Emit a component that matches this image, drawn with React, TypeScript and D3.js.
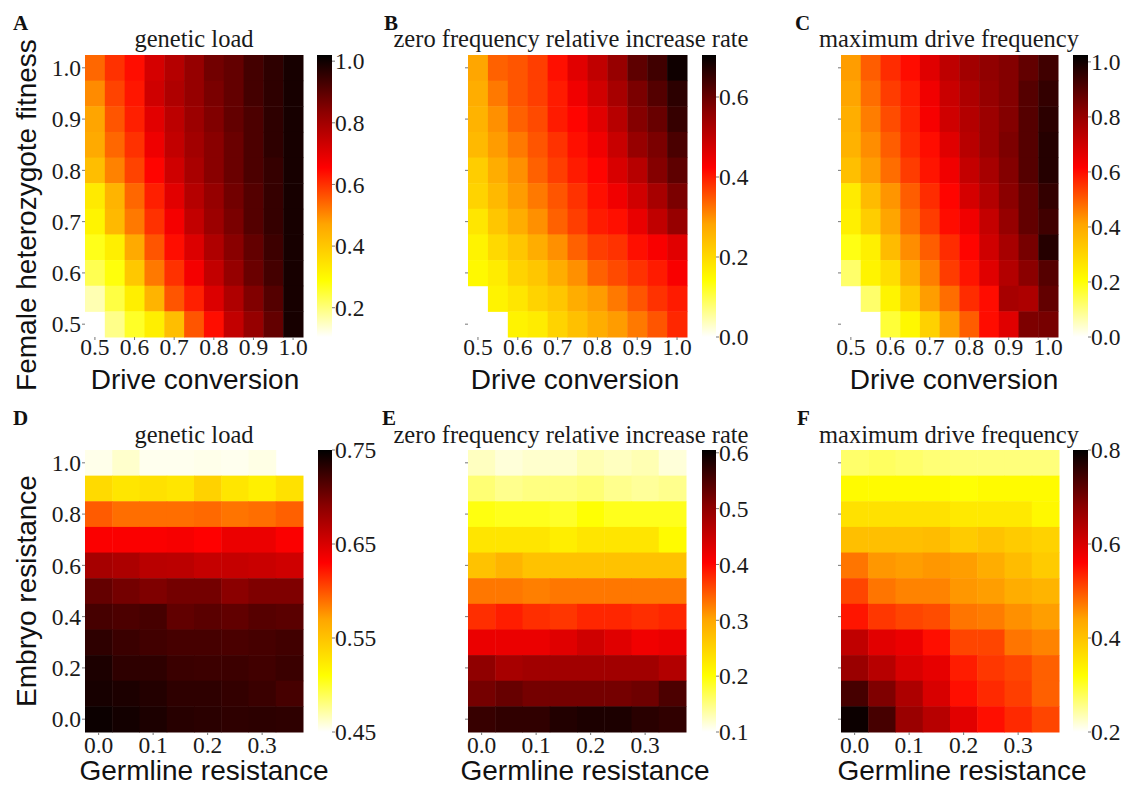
import React from "react";
import * as d3 from "d3";

// ---------- axes values ----------
const driveConversion = [0.5, 0.55, 0.6, 0.65, 0.7, 0.75, 0.8, 0.85, 0.9, 0.95, 1.0];
const femaleFitness = [1.0, 0.95, 0.9, 0.85, 0.8, 0.75, 0.7, 0.65, 0.6, 0.55, 0.5]; // top → bottom
const germlineResistance = [0, 0.05, 0.1, 0.15, 0.2, 0.25, 0.3, 0.35];
const embryoResistance = [1.0, 0.9, 0.8, 0.7, 0.6, 0.5, 0.4, 0.3, 0.2, 0.1, 0]; // top → bottom

// ---------- tick labels ----------
const driveTicks = [0.5, 0.6, 0.7, 0.8, 0.9, 1.0];
const fitnessTicks = [1.0, 0.9, 0.8, 0.7, 0.6, 0.5];
const germlineTicks = [0, 0.1, 0.2, 0.3];
const embryoTicks = [1.0, 0.8, 0.6, 0.4, 0.2, 0];

const loadTicksA = [0.2, 0.4, 0.6, 0.8, 1.0];
const zeroTicksB = [0, 0.2, 0.4, 0.6];
const maxTicksC = [0, 0.2, 0.4, 0.6, 0.8, 1.0];
const loadTicksD = [0.45, 0.55, 0.65, 0.75];
const zeroTicksE = [0.1, 0.2, 0.3, 0.4, 0.5, 0.6];
const maxTicksF = [0.2, 0.4, 0.6, 0.8];

// ---------- colour-bar ranges ----------
const rangeA = [0.105, 1.02];
const rangeB = [0, 0.705];
const rangeC = [0, 1.025];
const rangeD = [0.45, 0.75];
const rangeE = [0.1, 0.605];
const rangeF = [0.2, 0.8];

// ---------- data (rows top → bottom, columns left → right) ----------
const geneticLoadA: (number | null)[][] = [
  [0.54, 0.6, 0.64, 0.72, 0.77, 0.82, 0.87, 0.89, 0.93, 0.96, 0.99],
  [0.5, 0.58, 0.63, 0.73, 0.78, 0.82, 0.86, 0.89, 0.93, 0.96, 0.99],
  [0.47, 0.56, 0.62, 0.7, 0.76, 0.81, 0.85, 0.89, 0.92, 0.96, 0.99],
  [0.46, 0.54, 0.6, 0.68, 0.75, 0.8, 0.84, 0.88, 0.92, 0.96, 0.99],
  [0.42, 0.51, 0.58, 0.65, 0.73, 0.79, 0.84, 0.88, 0.92, 0.95, 0.99],
  [0.33, 0.44, 0.54, 0.62, 0.7, 0.77, 0.82, 0.87, 0.91, 0.95, 0.99],
  [0.31, 0.43, 0.52, 0.6, 0.67, 0.75, 0.81, 0.86, 0.91, 0.95, 0.99],
  [0.27, 0.32, 0.46, 0.56, 0.64, 0.71, 0.78, 0.84, 0.89, 0.94, 0.99],
  [0.23, 0.28, 0.4, 0.52, 0.6, 0.67, 0.75, 0.82, 0.88, 0.93, 0.99],
  [0.16, 0.24, 0.32, 0.44, 0.56, 0.62, 0.71, 0.78, 0.85, 0.91, 0.99],
  [null, 0.19, 0.26, 0.32, 0.42, 0.56, 0.64, 0.75, 0.82, 0.89, 0.99],
];

const zeroRateB: (number | null)[][] = [
  [0.28, 0.34, 0.35, 0.37, 0.41, 0.46, 0.5, 0.55, 0.61, 0.64, 0.69],
  [0.27, 0.32, 0.35, 0.37, 0.4, 0.44, 0.48, 0.53, 0.58, 0.62, 0.66],
  [0.26, 0.3, 0.34, 0.36, 0.4, 0.42, 0.46, 0.51, 0.57, 0.6, 0.65],
  [0.25, 0.29, 0.32, 0.35, 0.38, 0.41, 0.44, 0.49, 0.55, 0.58, 0.63],
  [0.22, 0.27, 0.3, 0.34, 0.37, 0.4, 0.42, 0.47, 0.51, 0.57, 0.61],
  [0.21, 0.25, 0.29, 0.32, 0.35, 0.38, 0.41, 0.44, 0.48, 0.53, 0.58],
  [0.18, 0.23, 0.27, 0.3, 0.34, 0.37, 0.4, 0.41, 0.45, 0.5, 0.55],
  [0.16, 0.2, 0.23, 0.27, 0.3, 0.34, 0.37, 0.38, 0.41, 0.43, 0.46],
  [0.15, 0.17, 0.21, 0.23, 0.27, 0.3, 0.34, 0.36, 0.38, 0.4, 0.43],
  [null, 0.16, 0.18, 0.21, 0.23, 0.27, 0.29, 0.32, 0.35, 0.38, 0.4],
  [null, null, 0.16, 0.17, 0.21, 0.24, 0.27, 0.29, 0.32, 0.35, 0.39],
];

const maxFreqC: (number | null)[][] = [
  [0.42, 0.5, 0.56, 0.6, 0.67, 0.73, 0.78, 0.81, 0.83, 0.88, 0.93],
  [0.41, 0.48, 0.54, 0.58, 0.64, 0.71, 0.76, 0.8, 0.83, 0.9, 0.95],
  [0.39, 0.46, 0.52, 0.57, 0.63, 0.7, 0.75, 0.79, 0.83, 0.9, 0.96],
  [0.38, 0.44, 0.5, 0.56, 0.6, 0.67, 0.74, 0.79, 0.84, 0.9, 0.97],
  [0.35, 0.42, 0.48, 0.54, 0.59, 0.64, 0.72, 0.77, 0.83, 0.9, 0.97],
  [0.25, 0.36, 0.43, 0.5, 0.56, 0.61, 0.69, 0.75, 0.82, 0.88, 0.95],
  [0.24, 0.32, 0.41, 0.48, 0.54, 0.6, 0.64, 0.72, 0.8, 0.88, 0.93],
  [0.19, 0.24, 0.36, 0.44, 0.5, 0.56, 0.61, 0.7, 0.77, 0.85, 0.97],
  [0.12, 0.23, 0.28, 0.39, 0.46, 0.54, 0.59, 0.67, 0.75, 0.82, 0.9],
  [null, 0.12, 0.23, 0.32, 0.42, 0.48, 0.56, 0.6, 0.77, 0.76, 0.88],
  [null, null, 0.16, 0.22, 0.31, 0.42, 0.5, 0.6, 0.67, 0.84, 0.85],
];

const geneticLoadD: (number | null)[][] = [
  [0.455, 0.462, 0.454, 0.454, 0.455, 0.454, 0.456, null],
  [0.535, 0.527, 0.53, 0.527, 0.54, 0.527, 0.52, 0.53],
  [0.597, 0.59, 0.59, 0.59, 0.592, 0.588, 0.59, 0.595],
  [0.632, 0.632, 0.632, 0.634, 0.63, 0.64, 0.64, 0.632],
  [0.676, 0.673, 0.666, 0.665, 0.66, 0.66, 0.658, 0.655],
  [0.707, 0.7, 0.695, 0.7, 0.7, 0.69, 0.695, 0.695],
  [0.72, 0.717, 0.72, 0.708, 0.711, 0.708, 0.713, 0.711],
  [0.73, 0.725, 0.722, 0.72, 0.72, 0.718, 0.72, 0.722],
  [0.738, 0.73, 0.73, 0.725, 0.724, 0.724, 0.722, 0.725],
  [0.74, 0.738, 0.735, 0.73, 0.73, 0.728, 0.725, 0.72],
  [0.745, 0.742, 0.738, 0.733, 0.732, 0.73, 0.731, 0.73],
];

const zeroRateE: (number | null)[][] = [
  [0.125, 0.115, 0.12, 0.12, 0.13, 0.125, 0.13, 0.115],
  [0.155, 0.145, 0.15, 0.15, 0.155, 0.145, 0.14, 0.145],
  [0.195, 0.19, 0.19, 0.185, 0.2, 0.19, 0.19, 0.19],
  [0.23, 0.23, 0.23, 0.22, 0.23, 0.23, 0.23, 0.205],
  [0.27, 0.285, 0.27, 0.27, 0.27, 0.27, 0.27, 0.27],
  [0.33, 0.33, 0.325, 0.33, 0.33, 0.33, 0.33, 0.33],
  [0.375, 0.385, 0.375, 0.37, 0.38, 0.38, 0.375, 0.38],
  [0.42, 0.42, 0.42, 0.43, 0.445, 0.43, 0.415, 0.42],
  [0.5, 0.48, 0.485, 0.485, 0.485, 0.485, 0.485, 0.47],
  [0.52, 0.53, 0.52, 0.52, 0.52, 0.52, 0.525, 0.55],
  [0.565, 0.57, 0.57, 0.58, 0.585, 0.585, 0.575, 0.57],
];

const maxFreqF: (number | null)[][] = [
  [0.27, 0.275, 0.27, 0.265, 0.262, 0.262, 0.262, 0.262],
  [0.325, 0.325, 0.325, 0.325, 0.318, 0.325, 0.325, 0.325],
  [0.36, 0.36, 0.36, 0.36, 0.35, 0.35, 0.35, 0.33],
  [0.405, 0.405, 0.405, 0.41, 0.39, 0.4, 0.39, 0.38],
  [0.475, 0.45, 0.445, 0.45, 0.445, 0.43, 0.41, 0.39],
  [0.51, 0.475, 0.465, 0.465, 0.45, 0.445, 0.43, 0.42],
  [0.545, 0.52, 0.51, 0.505, 0.475, 0.47, 0.455, 0.445],
  [0.625, 0.59, 0.58, 0.55, 0.51, 0.51, 0.475, 0.465],
  [0.665, 0.635, 0.6, 0.585, 0.54, 0.52, 0.51, 0.49],
  [0.74, 0.69, 0.645, 0.6, 0.55, 0.53, 0.515, 0.49],
  [0.79, 0.74, 0.665, 0.635, 0.59, 0.55, 0.53, 0.51],
];

const heatColors = ["#ffffff", "#ffff00", "#ffa500", "#ff0000", "#8b0000", "#000000"];

const SERIF = "'Liberation Serif', 'Times New Roman', serif";
const SANS = "'Liberation Sans', Arial, sans-serif";

type PanelProps = {
  id: string;
  letter: string;
  letterX: number;
  letterY: number;
  title: string;
  titleX: number;
  titleY: number;
  left: number;
  top: number;
  width: number;
  height: number;
  xVals: number[];
  yVals: number[];
  data: (number | null)[][];
  xTicks: number[];
  yTicks: number[];
  xFmt: (v: number) => string;
  showYLabels: boolean;
  xTickDy: number;
  xTitle: string;
  xTitleX: number;
  xTitleY: number;
  range: number[];
  cbX: number;
  cbW: number;
  cbTicks: number[];
  cbFmt: (v: number) => string;
};

function Panel(p: PanelProps) {
  const x = d3
    .scaleBand<string>()
    .domain(p.xVals.map(String))
    .range([p.left, p.left + p.width])
    .padding(0);
  const y = d3
    .scaleBand<string>()
    .domain(p.yVals.map(String))
    .range([p.top, p.top + p.height])
    .padding(0);
  const [lo, hi] = p.range;
  const stops = heatColors.map((_, i) => lo + ((hi - lo) * i) / (heatColors.length - 1));
  const color = d3
    .scaleLinear<string>()
    .domain(stops)
    .range(heatColors)
    .interpolate(d3.interpolateRgb)
    .clamp(true);
  const cbScale = d3.scaleLinear().domain([lo, hi]).range([p.top + p.height, p.top]);
  const bw = x.bandwidth();
  const bh = y.bandwidth();
  const gradId = `grad-${p.id}`;
  const tickColor = "#777";
  const labelColor = "#1a1a1a";

  return (
    <g>
      <defs>
        <linearGradient id={gradId} x1="0" y1="1" x2="0" y2="0">
          {heatColors.map((c, i) => (
            <stop key={i} offset={`${(i / (heatColors.length - 1)) * 100}%`} stopColor={c} />
          ))}
        </linearGradient>
      </defs>
      <text x={p.letterX} y={p.letterY} fontFamily={SERIF} fontWeight="bold" fontSize={21} fill="#111">
        {p.letter}
      </text>
      <text x={p.titleX} y={p.titleY} textAnchor="middle" fontFamily={SERIF} fontSize={24.5} fill={labelColor}>
        {p.title}
      </text>
      {p.data.map((row, ri) =>
        row.map((v, ci) =>
          v == null ? null : (
            <rect
              key={`${ri}-${ci}`}
              x={x(String(p.xVals[ci]))}
              y={y(String(p.yVals[ri]))}
              width={bw + 0.5}
              height={bh + 0.5}
              fill={color(v)}
            />
          )
        )
      )}
      {/* x ticks */}
      {p.xTicks.map((t) => {
        const cx = (x(String(t)) as number) + bw / 2;
        return (
          <g key={`xt${t}`}>
            <line x1={cx} x2={cx} y1={p.top + p.height} y2={p.top + p.height + 3} stroke={tickColor} strokeWidth={1} />
            <text
              x={cx}
              y={p.top + p.height + p.xTickDy}
              textAnchor="middle"
              fontFamily={SERIF}
              fontSize={23.5}
              fill={labelColor}
            >
              {p.xFmt(t)}
            </text>
          </g>
        );
      })}
      {/* y ticks */}
      {p.yTicks.map((t) => {
        const cy = (y(String(t)) as number) + bh / 2;
        return (
          <g key={`yt${t}`}>
            <line x1={p.left - 3} x2={p.left} y1={cy} y2={cy} stroke={tickColor} strokeWidth={1} />
            {p.showYLabels && (
              <text
                x={p.left - 4}
                y={cy}
                dy="0.35em"
                textAnchor="end"
                fontFamily={SERIF}
                fontSize={23.5}
                fill={labelColor}
              >
                {d3.format(".1f")(t)}
              </text>
            )}
          </g>
        );
      })}
      <text x={p.xTitleX} y={p.xTitleY} textAnchor="middle" fontFamily={SANS} fontSize={28} fill="#111">
        {p.xTitle}
      </text>
      {/* colour bar */}
      <rect x={p.cbX} y={p.top} width={p.cbW} height={p.height} fill={`url(#${gradId})`} />
      {p.cbTicks.map((t) => {
        const cy = cbScale(t);
        return (
          <g key={`cb${t}`}>
            <line x1={p.cbX + p.cbW} x2={p.cbX + p.cbW + 3} y1={cy} y2={cy} stroke={tickColor} strokeWidth={1} />
            <text
              x={p.cbX + p.cbW + 3}
              y={cy}
              dy="0.35em"
              fontFamily={SERIF}
              fontSize={23.5}
              fill={labelColor}
            >
              {p.cbFmt(t)}
            </text>
          </g>
        );
      })}
    </g>
  );
}

const f1 = d3.format(".1f");
const f2 = d3.format(".2f");

export default function App() {
  const topRow = { top: 55, height: 282, titleY: 47, letterY: 30, xTickDy: 18, xTitleY: 389 };
  const botRow = { top: 450, height: 282, titleY: 443, letterY: 425, xTickDy: 21, xTitleY: 780 };

  return (
    <svg
      width={1124}
      height={785}
      style={{ position: "absolute", left: 0, top: 0, background: "#fff" }}
    >
      <rect x={0} y={0} width={1124} height={785} fill="#fff" />
      <Panel
        id="A" letter="A" letterX={13} letterY={topRow.letterY}
        title="genetic load" titleX={194} titleY={topRow.titleY}
        left={85} top={topRow.top} width={218} height={topRow.height}
        xVals={driveConversion} yVals={femaleFitness} data={geneticLoadA}
        xTicks={driveTicks} yTicks={fitnessTicks} xFmt={f1} showYLabels={true}
        xTickDy={topRow.xTickDy} xTitle="Drive conversion" xTitleX={195} xTitleY={topRow.xTitleY}
        range={rangeA} cbX={317} cbW={15} cbTicks={loadTicksA} cbFmt={f1}
      />
      <Panel
        id="B" letter="B" letterX={384} letterY={topRow.letterY}
        title="zero frequency relative increase rate" titleX={571} titleY={topRow.titleY}
        left={468} top={topRow.top} width={219} height={topRow.height}
        xVals={driveConversion} yVals={femaleFitness} data={zeroRateB}
        xTicks={driveTicks} yTicks={fitnessTicks} xFmt={f1} showYLabels={false}
        xTickDy={topRow.xTickDy} xTitle="Drive conversion" xTitleX={575} xTitleY={topRow.xTitleY}
        range={rangeB} cbX={702} cbW={14} cbTicks={zeroTicksB} cbFmt={f1}
      />
      <Panel
        id="C" letter="C" letterX={795} letterY={topRow.letterY}
        title="maximum drive frequency" titleX={949} titleY={topRow.titleY}
        left={841} top={topRow.top} width={217} height={topRow.height}
        xVals={driveConversion} yVals={femaleFitness} data={maxFreqC}
        xTicks={driveTicks} yTicks={fitnessTicks} xFmt={f1} showYLabels={false}
        xTickDy={topRow.xTickDy} xTitle="Drive conversion" xTitleX={954} xTitleY={topRow.xTitleY}
        range={rangeC} cbX={1073} cbW={15} cbTicks={maxTicksC} cbFmt={f1}
      />
      <Panel
        id="D" letter="D" letterX={13} letterY={botRow.letterY}
        title="genetic load" titleX={194} titleY={botRow.titleY}
        left={85} top={botRow.top} width={218} height={botRow.height}
        xVals={germlineResistance} yVals={embryoResistance} data={geneticLoadD}
        xTicks={germlineTicks} yTicks={embryoTicks} xFmt={f1} showYLabels={true}
        xTickDy={botRow.xTickDy} xTitle="Germline resistance" xTitleX={204} xTitleY={botRow.xTitleY}
        range={rangeD} cbX={318} cbW={14} cbTicks={loadTicksD} cbFmt={f2}
      />
      <Panel
        id="E" letter="E" letterX={382} letterY={botRow.letterY}
        title="zero frequency relative increase rate" titleX={571} titleY={botRow.titleY}
        left={468} top={botRow.top} width={218} height={botRow.height}
        xVals={germlineResistance} yVals={embryoResistance} data={zeroRateE}
        xTicks={germlineTicks} yTicks={embryoTicks} xFmt={f1} showYLabels={false}
        xTickDy={botRow.xTickDy} xTitle="Germline resistance" xTitleX={585} xTitleY={botRow.xTitleY}
        range={rangeE} cbX={702} cbW={14} cbTicks={zeroTicksE} cbFmt={f1}
      />
      <Panel
        id="F" letter="F" letterX={797} letterY={botRow.letterY}
        title="maximum drive frequency" titleX={949} titleY={botRow.titleY}
        left={841} top={botRow.top} width={218} height={botRow.height}
        xVals={germlineResistance} yVals={embryoResistance} data={maxFreqF}
        xTicks={germlineTicks} yTicks={embryoTicks} xFmt={f1} showYLabels={false}
        xTickDy={botRow.xTickDy} xTitle="Germline resistance" xTitleX={962} xTitleY={botRow.xTitleY}
        range={rangeF} cbX={1073} cbW={15} cbTicks={maxTicksF} cbFmt={f1}
      />
      <text
        transform="translate(36,215) rotate(-90)"
        textAnchor="middle"
        fontFamily={SANS}
        fontSize={28}
        fill="#111"
      >
        Female heterozygote fitness
      </text>
      <text
        transform="translate(36,591) rotate(-90)"
        textAnchor="middle"
        fontFamily={SANS}
        fontSize={28}
        fill="#111"
      >
        Embryo resistance
      </text>
    </svg>
  );
}
